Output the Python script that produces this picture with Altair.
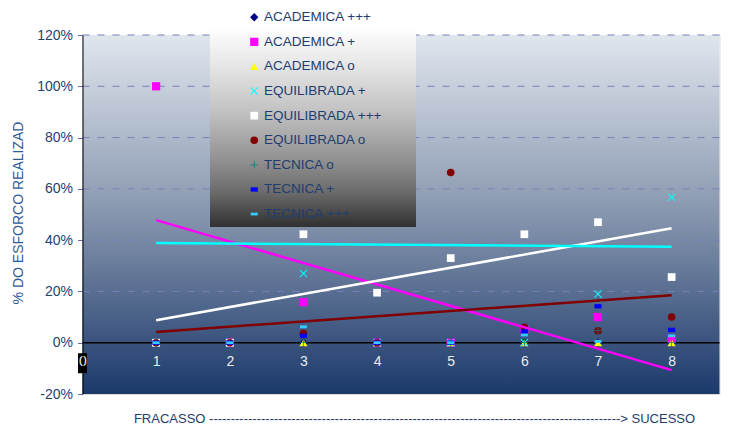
import altair as alt
import pandas as pd

# ---------------- data ----------------
x_values = [1, 2, 3, 4, 5, 6, 7, 8]
series_names = ["ACADEMICA +++", "ACADEMICA +", "ACADEMICA o", "EQUILIBRADA +",
                "EQUILIBRADA +++", "EQUILIBRADA o", "TECNICA o", "TECNICA +", "TECNICA +++"]

academica_ppp = [0, 0, 0, 0, 0, 0, 0, 0]
academica_p = [100, 0, 15.8, 0, 0, 5.3, 10, 1.4]
academica_o = [0, 0, 0, 0, 0, 0, 0, 0]
equilibrada_p = [0, 0, 27, 0, 0, 0, 19, 56.7]
equilibrada_ppp = [0, 0, 42.3, 19.5, 33, 42.3, 47, 25.6]
equilibrada_o = [0, 0, 3.6, 0, 66.4, 6, 4.7, 10]
tecnica_o = [0, 0, 0, 0, 0, 0, 4.7, 0]
tecnica_p = [0, 0, 2.7, 0, 0, 4.4, 14.2, 5]
tecnica_ppp = [0, 0, 6.2, 0, 0, 3, 0.5, 2.7]

series_values = [academica_ppp, academica_p, academica_o, equilibrada_p,
                 equilibrada_ppp, equilibrada_o, tecnica_o, tecnica_p, tecnica_ppp]

# trend lines (value at x=1 and x=8)
trend_x = [1, 8]
trend_academica_p = [47.8, -10.7]
trend_equilibrada_ppp = [8.8, 44.6]
trend_equilibrada_o = [4.2, 18.5]
trend_cyan = [38.9, 37.4]

y_ticks = [-20, 0, 20, 40, 60, 80, 100, 120]
grid_values = [20, 40, 60, 80, 100, 120]
x_ticks = [0, 1, 2, 3, 4, 5, 6, 7, 8]
zero_box_x = [0]
zero_box_y = [-8.0]

# ---------------- styles ----------------
series_colors = ["#000080", "#FF00FF", "#FFFF00", "#00FFFF", "#FFFFFF",
                 "#800000", "#008080", "#0000FF", "#33CCFF"]
X_PATH = ("M-1,-0.82L-0.82,-1L0,-0.18L0.82,-1L1,-0.82L0.18,0L1,0.82L0.82,1"
          "L0,0.18L-0.82,1L-1,0.82L-0.18,0Z")
PLUS_PATH = ("M-0.1,-1L0.1,-1L0.1,-0.1L1,-0.1L1,0.1L0.1,0.1L0.1,1L-0.1,1"
             "L-0.1,0.1L-1,0.1L-1,-0.1L-0.1,-0.1Z")
SHORT_DASH = "M-1,-0.6L1,-0.6L1,0.6L-1,0.6Z"
LONG_DASH = "M-1,-0.4L1,-0.4L1,0.4L-1,0.4Z"
series_shapes = ["diamond", "square", "triangle-up", X_PATH, "square",
                 "circle", PLUS_PATH, SHORT_DASH, LONG_DASH]
series_sizes = [70, 49, 70, 70, 135, 70, 80, 25, 81]

trend_names = ["ACADEMICA +", "EQUILIBRADA +++", "EQUILIBRADA o", "CIANO"]
trend_colors = ["#FF00FF", "#FFFFFF", "#800000", "#00FFFF"]
trend_series = [trend_academica_p, trend_equilibrada_ppp, trend_equilibrada_o, trend_cyan]

# ---------------- tables ----------------
rows = []
for name, vals in zip(series_names, series_values):
    for xv, yv in zip(x_values, vals):
        rows.append({"x": xv, "y": yv, "series": name})
points_df = pd.DataFrame(rows)

trows = []
for name, col, vals in zip(trend_names, trend_colors, trend_series):
    for xv, yv in zip(trend_x, vals):
        trows.append({"x": xv, "y": yv, "name": name, "col": col})
trend_df = pd.DataFrame(trows)

zero_df = pd.DataFrame({"y": [0]})
grid_df = pd.DataFrame({"y": grid_values})
box_df = pd.DataFrame({"x": zero_box_x, "y": zero_box_y})

# ---------------- chart ----------------
FONT = "Liberation Sans"
W, H = 637, 359
xscale = alt.Scale(domain=[0, 8.65], nice=False, zero=False)
yscale = alt.Scale(domain=[-20, 120], nice=False, zero=False)

x_axis = alt.Axis(values=x_ticks, format="d", offset=-51.3, domain=False, ticks=False,
                  grid=False,
                  labelColor="#EBEBEB", labelFontSize=14, labelFont=FONT, labelPadding=12,
                  labelFlush=False, labelOverlap=False, zindex=1,
                  title="FRACASSO " + "-" * 95 + "> SUCESSO",
                  titleFont=FONT, titleFontSize=13, titleFontWeight="normal",
                  titleColor="#1F3D6E", titleX=331.5, titleY=80,
                  titleAlign="center", titleBaseline="alphabetic")

y_axis = alt.Axis(values=y_ticks, labelExpr="datum.value + '%'",
                  grid=False, zindex=1,
                  domainColor="black", domainWidth=1,
                  tickColor="#6C6CA8", tickSize=5,
                  labelFont=FONT, labelFontSize=14, labelColor="#1F4172", labelPadding=5,
                  title="% DO ESFORCO REALIZAD", titleFont=FONT, titleFontSize=14,
                  titleFontWeight="normal", titleColor="#2F5A95",
                  titleX=-64, titleY=177.5, titleAngle=270,
                  titleAlign="center", titleBaseline="middle")

legend = alt.Legend(orient="none", legendX=165, legendY=-24.5, title=None,
                    labelFont=FONT, labelFontSize=13.5, labelColor="#1F3D6E",
                    rowPadding=9.6, symbolStrokeWidth=0, labelOffset=3, padding=0,
                    symbolOpacity=1)

plot_bg = alt.Chart(pd.DataFrame({"a": [0]})).mark_rect(
    fill=alt.Gradient(
        gradient="linear", x1=0, x2=0, y1=0, y2=1,
        stops=[
            alt.GradientStop(offset=0, color="#E0E6EE"),
            alt.GradientStop(offset=0.5, color="#8796AE"),
            alt.GradientStop(offset=1, color="#1B396B"),
        ],
    )
).encode(x=alt.value(0), x2=alt.value(W), y=alt.value(0), y2=alt.value(H))

grid = alt.Chart(grid_df).mark_rule(color="#7A80B8", strokeDash=[7, 8], strokeWidth=1).encode(
    y=alt.Y("y:Q", scale=yscale)
)

zero_rule = alt.Chart(zero_df).mark_rule(color="black", strokeWidth=1.5).encode(
    y=alt.Y("y:Q", scale=yscale)
)

points = alt.Chart(points_df).mark_point(filled=True, opacity=1, strokeWidth=0).encode(
    x=alt.X("x:Q", scale=xscale, axis=x_axis),
    y=alt.Y("y:Q", scale=yscale, axis=y_axis),
    color=alt.Color("series:N", scale=alt.Scale(domain=series_names, range=series_colors),
                    legend=legend),
    shape=alt.Shape("series:N", scale=alt.Scale(domain=series_names, range=series_shapes),
                    legend=legend),
    size=alt.Size("series:N", scale=alt.Scale(domain=series_names, range=series_sizes),
                  legend=legend),
)

trends = alt.Chart(trend_df).mark_line(strokeWidth=2.5).encode(
    x=alt.X("x:Q", scale=xscale),
    y=alt.Y("y:Q", scale=yscale),
    detail="name:N",
    stroke=alt.Stroke("col:N", scale=None),
)

zero_box = alt.Chart(box_df).mark_point(
    filled=True, opacity=1, strokeWidth=0, color="black",
    shape="M-0.45,-1L0.45,-1L0.45,1L-0.45,1Z", size=400
).encode(
    x=alt.X("x:Q", scale=xscale),
    y=alt.Y("y:Q", scale=yscale),
)

legend_bg = alt.Chart(pd.DataFrame({"a": [0]})).mark_rect(
    fill=alt.Gradient(
        gradient="linear", x1=0, x2=0, y1=0, y2=1,
        stops=[
            alt.GradientStop(offset=0, color="#FFFFFF"),
            alt.GradientStop(offset=0.12, color="#FFFFFF"),
            alt.GradientStop(offset=0.3, color="#E4E4E4"),
            alt.GradientStop(offset=0.5, color="#C0C0C0"),
            alt.GradientStop(offset=0.7, color="#929292"),
            alt.GradientStop(offset=0.85, color="#6A6A6A"),
            alt.GradientStop(offset=1, color="#303030"),
        ],
    )
).encode(
    x=alt.value(127.5), x2=alt.value(333.5), y=alt.value(-35), y2=alt.value(192)
)

chart = alt.layer(plot_bg, grid, zero_rule, points, trends, zero_box, legend_bg).properties(
    width=W, height=H,
    padding={"left": 82.5, "top": 35, "right": 14.5, "bottom": 31},
    autosize=alt.AutoSizeParams(type="none"),
    background="white",
).configure_view(
    stroke=None
).configure(font=FONT)

chart.save("out.html", embed_options={"renderer": "svg", "actions": False})
